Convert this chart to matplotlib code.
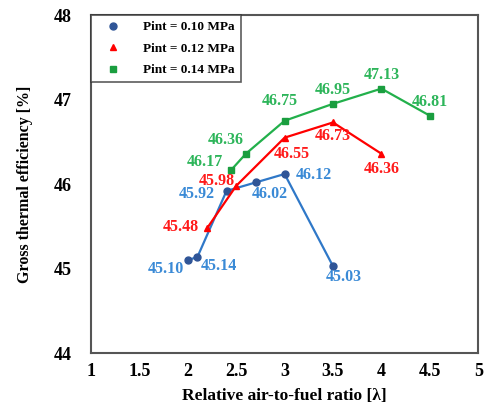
import matplotlib
matplotlib.use('Agg')
import matplotlib.pyplot as plt

# ===== data =====
lam_010 = [2.0, 2.1, 2.4, 2.7, 3.0, 3.5]
eff_010 = [45.10, 45.14, 45.92, 46.02, 46.12, 45.03]
lam_012 = [2.2, 2.5, 3.0, 3.5, 4.0]
eff_012 = [45.48, 45.98, 46.55, 46.73, 46.36]
lam_014 = [2.45, 2.6, 3.0, 3.5, 4.0, 4.5]
eff_014 = [46.17, 46.36, 46.75, 46.95, 47.13, 46.81]

# label offsets in pixels
off_010 = [(-22, -9), (21, -9), (-30, -3), (14, -12), (29, -1), (11, -11)]
off_012 = [(-26, 1), (-19, 5), (7, -16), (0, -14), (0, -15)]
off_014 = [(-26, 8), (-20, 14), (-5, 20), (0, 14), (0, 14), (0, 14)]

plt.rcParams['font.family'] = ['Liberation Serif', 'DejaVu Serif']
plt.rcParams['font.weight'] = 'bold'

fig = plt.figure(figsize=(4.84, 4.07), dpi=100)
ax = fig.add_axes([0.188, 0.132, 0.800, 0.831])

series = [
    (lam_010, eff_010, off_010, '#2F78C8', '#2F5597', 'o', 'Pint = 0.10 MPa', '#3A8AD6'),
    (lam_012, eff_012, off_012, '#FF0000', '#FF0000', '^', 'Pint = 0.12 MPa', '#FF1A1A'),
    (lam_014, eff_014, off_014, '#22B04B', '#1A9E3F', 's', 'Pint = 0.14 MPa', '#2DB55A'),
]

for x, y, offs, lc, mc, mk, lab, tc in series:
    ax.plot(x, y, color=lc, lw=1.6, marker=mk, markersize=5, markerfacecolor=mc,
            markeredgecolor=mc, label=lab)
    for xi, yi, (dx, dy) in zip(x, y, offs):
        ax.annotate(f'{yi:.2f}', (xi, yi), xytext=(dx, dy), textcoords='offset pixels',
                    ha='center', va='center', color=tc, fontsize=11.5, fontweight='bold')

ax.set_xlim(1, 5)
ax.set_ylim(44, 48)
ax.set_xticks([1, 1.5, 2, 2.5, 3, 3.5, 4, 4.5, 5])
ax.set_xticklabels(['1', '1.5', '2', '2.5', '3', '3.5', '4', '4.5', '5'])
ax.set_yticks([44, 45, 46, 47, 48])
ax.tick_params(axis='x', length=0, labelsize=13, pad=7)
ax.tick_params(axis='y', length=0, labelsize=13, pad=14)
for s in ax.spines.values():
    s.set_color('#555555')
    s.set_linewidth(1.5)

ax.set_xlabel('Relative air-to-fuel ratio [λ]', fontsize=12.5, fontweight='bold', labelpad=6)
ax.set_ylabel('Gross thermal efficiency [%]', fontsize=11.5, fontweight='bold', labelpad=15)

leg = ax.legend(loc='upper left', fontsize=9.5, frameon=True, fancybox=False,
                borderaxespad=0, handlelength=2.5, labelspacing=0.7,
                borderpad=0.45, handletextpad=1.0)
leg.get_frame().set_edgecolor('#333333')
leg.get_frame().set_linewidth(1.2)
# only markers in legend
for h in leg.legend_handles:
    h.set_linestyle('none')

fig.savefig('out.png', dpi=100)
